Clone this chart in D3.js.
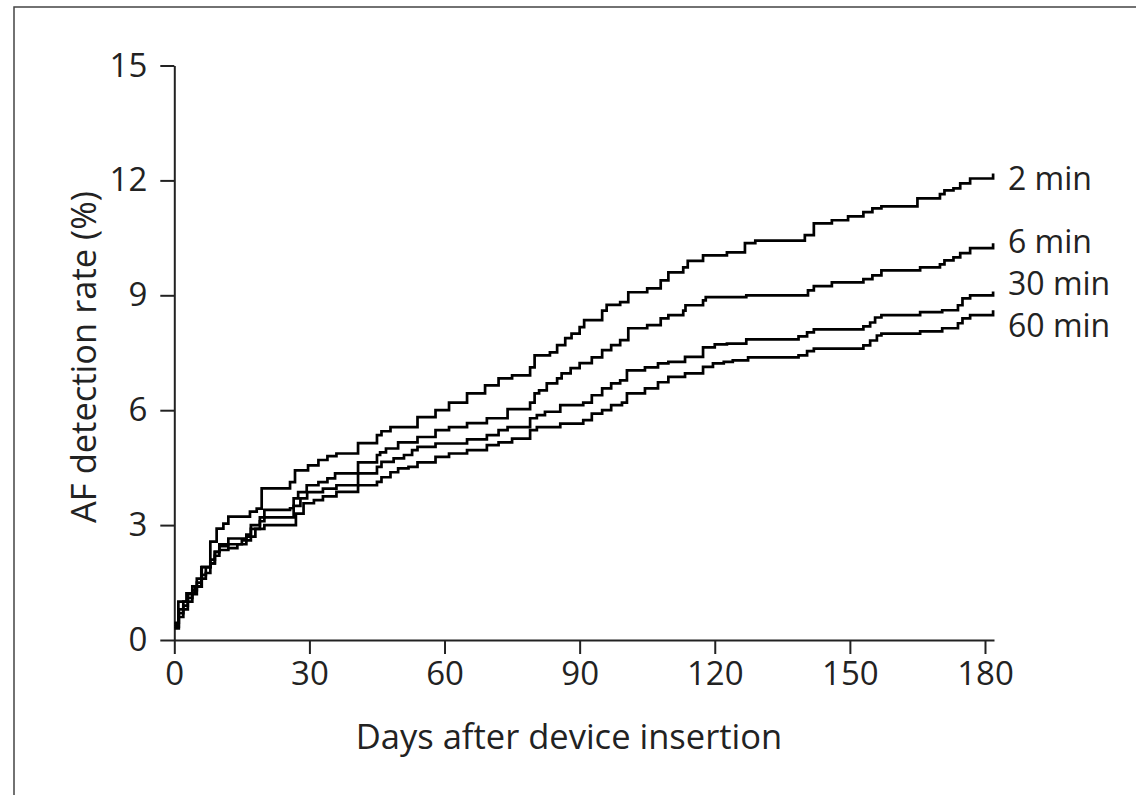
<!DOCTYPE html>
<html>
<head>
<meta charset="utf-8">
<script src="https://cdn.jsdelivr.net/npm/d3@7"></script>
<style>
  html, body { margin: 0; padding: 0; background: #fff; }
  svg { display: block; }
  text { font-family: "Open Sans", "DejaVu Sans", sans-serif; fill: #222; }
</style>
</head>
<body>
<div id="chart"></div>
<script>
// step points: [day, AF detection rate %]
const min2 = [[0,0.4],[0.9,1.0],[2.7,1.22],[4.6,1.39],[6.1,1.91],[8,2.57],[9.4,2.91],[10.9,3.04],[12,3.22],[16.8,3.35],[18.3,3.43],[19.4,3.96],[25.7,4.12],[26.8,4.43],[29.7,4.56],[32,4.7],[34,4.8],[36,4.87],[40.8,5.14],[45,5.35],[46,5.45],[48,5.56],[54,5.82],[58,6.0],[61,6.2],[65,6.44],[69,6.65],[72,6.83],[75,6.91],[79,7.12],[80,7.43],[83.4,7.51],[85,7.7],[86.8,7.88],[88.2,8.0],[90,8.17],[91,8.35],[95,8.6],[96,8.75],[99,8.82],[100.8,9.08],[105,9.18],[108,9.39],[109.7,9.6],[113,9.73],[114,9.9],[117.4,10.04],[122.7,10.12],[126.7,10.36],[129,10.43],[140,10.57],[142,10.88],[146,10.96],[149.6,11.06],[153,11.17],[155,11.27],[157,11.32],[165,11.53],[170,11.64],[171,11.74],[173,11.79],[174.5,11.92],[176.7,12.05],[181.8,12.18]];
const min6 = [[0,0.45],[1,0.8],[2,1.0],[3,1.2],[4,1.4],[5,1.6],[6,1.9],[8,2.0],[9,2.3],[10,2.5],[12,2.65],[16,2.75],[17,3.0],[19,3.2],[20,3.4],[25.7,3.44],[26.5,3.7],[27.5,3.86],[29.4,4.04],[32,4.12],[34,4.22],[35.7,4.35],[40.8,4.64],[45,4.83],[45.7,4.9],[47,5.0],[49.7,5.16],[54,5.3],[58,5.48],[61,5.56],[65,5.66],[69.4,5.79],[74,6.03],[79,6.2],[80,6.44],[81,6.52],[82.7,6.7],[85,6.83],[86,6.96],[88,7.1],[90,7.23],[92.7,7.38],[95,7.57],[97,7.7],[99,7.83],[100.8,8.14],[105,8.22],[108,8.4],[109.7,8.48],[113,8.6],[113.5,8.74],[117.4,8.87],[118,8.95],[127,9.0],[140.7,9.13],[142,9.24],[146,9.34],[153,9.42],[155,9.52],[157,9.65],[165.6,9.73],[170,9.81],[171,9.91],[173,9.99],[174.5,10.1],[176.7,10.23],[181.8,10.36]];
const min30 = [[0,0.35],[1,0.7],[2,0.9],[3,1.1],[4,1.3],[5,1.5],[6,1.7],[7,1.9],[8,2.1],[9,2.3],[10,2.45],[12,2.5],[15,2.6],[17,2.9],[19,3.1],[20,3.2],[26.5,3.5],[28,3.7],[29.5,3.86],[33,3.95],[36,4.04],[40.8,4.35],[45,4.52],[46,4.65],[48.7,4.74],[51,4.83],[52.8,4.96],[54,5.04],[58,5.13],[65,5.24],[69.4,5.35],[72,5.48],[74,5.56],[79,5.79],[80.5,5.87],[82.3,5.96],[85.7,6.13],[90.8,6.2],[92.7,6.39],[95,6.57],[97,6.7],[99,6.78],[100.5,7.04],[104.5,7.12],[107.4,7.22],[109.7,7.26],[113.4,7.39],[117.4,7.64],[120,7.72],[122.7,7.74],[127,7.85],[138.6,7.93],[140.5,8.03],[142,8.11],[153,8.19],[154.5,8.29],[155.6,8.42],[157,8.48],[165.6,8.56],[170.5,8.61],[174,8.74],[175,8.92],[176.7,9.0],[181.8,9.1]];
const min60 = [[0,0.3],[1,0.6],[2,0.8],[3,1.0],[4,1.2],[5,1.4],[6,1.6],[7,1.75],[8,2.0],[9,2.2],[10,2.35],[12,2.4],[14,2.5],[16,2.7],[18,2.9],[20,3.0],[27,3.3],[28.7,3.57],[31,3.65],[33,3.75],[36,3.87],[40.8,4.04],[45,4.13],[46,4.25],[48,4.38],[49.7,4.48],[52,4.52],[54,4.64],[58,4.78],[61,4.87],[65,4.96],[69.4,5.09],[72,5.16],[75,5.26],[79,5.48],[80.5,5.56],[85.7,5.65],[90.8,5.74],[92.7,5.91],[95,6.0],[97,6.13],[99.4,6.2],[100.5,6.44],[104.5,6.57],[107.4,6.73],[109.7,6.87],[113.4,6.96],[117.4,7.13],[119.6,7.22],[122,7.26],[124,7.3],[127.4,7.38],[138.6,7.43],[140.5,7.54],[142,7.61],[153,7.69],[154.5,7.82],[156,7.95],[157,8.0],[165.6,8.06],[170.5,8.14],[174,8.27],[175,8.4],[176.7,8.48],[181.8,8.61]];

const seriesNames = ["2 min", "6 min", "30 min", "60 min"];
const seriesData = [min2, min6, min30, min60];
const labelValues = [12.05, 10.4, 9.3, 8.2];

const xTicks = [0, 30, 60, 90, 120, 150, 180];
const yTicks = [0, 3, 6, 9, 12, 15];

const width = 1136, height = 795;
const margin = {top: 65.5, right: 142, bottom: 155, left: 174.3};

const svg = d3.create("svg")
    .attr("width", width)
    .attr("height", height);

// outer frame (only left and top edges visible)
svg.append("rect")
    .attr("x", 14).attr("y", 7)
    .attr("width", width + 20).attr("height", height + 20)
    .attr("fill", "none")
    .attr("stroke", "#444")
    .attr("stroke-width", 1.5);

const x = d3.scaleLinear()
    .domain([0, 182])
    .range([margin.left, width - margin.right]);

const y = d3.scaleLinear()
    .domain([0, 15])
    .range([height - margin.bottom, margin.top]);

const xAxis = svg.append("g")
    .attr("transform", `translate(0, ${y(0)})`)
    .call(d3.axisBottom(x).tickValues(xTicks).tickSize(14).tickSizeOuter(0).tickPadding(8));

const yAxis = svg.append("g")
    .attr("transform", `translate(${x(0)}, 0)`)
    .call(d3.axisLeft(y).tickValues(yTicks).tickSize(14).tickSizeOuter(0).tickPadding(13));

[xAxis, yAxis].forEach(g => {
    g.selectAll("path, line").attr("stroke", "#222").attr("stroke-width", 2);
    g.selectAll("text")
        .attr("fill", "#222")
        .style("font-size", "33px")
        .style("font-family", '"Open Sans", sans-serif');
});

const line = d3.line()
    .x(d => x(d[0]))
    .y(d => y(d[1]))
    .curve(d3.curveStepAfter);

svg.append("g")
    .selectAll("path")
    .data(seriesData)
    .join("path")
    .attr("d", line)
    .attr("fill", "none")
    .attr("stroke", "#000")
    .attr("stroke-width", 2.7);

svg.append("g")
    .selectAll("text")
    .data(seriesNames)
    .join("text")
    .attr("x", 1008)
    .attr("y", (d, i) => y(labelValues[i]))
    .attr("dy", "0.35em")
    .style("font-size", "32px")
    .text(d => d);

svg.append("text")
    .attr("x", 569)
    .attr("y", 749)
    .attr("text-anchor", "middle")
    .style("font-size", "34.5px")
    .text("Days after device insertion");

svg.append("text")
    .attr("transform", `translate(96, 357) rotate(-90)`)
    .attr("text-anchor", "middle")
    .style("font-size", "34.5px")
    .text("AF detection rate (%)");

document.getElementById("chart").appendChild(svg.node());
</script>
</body>
</html>
